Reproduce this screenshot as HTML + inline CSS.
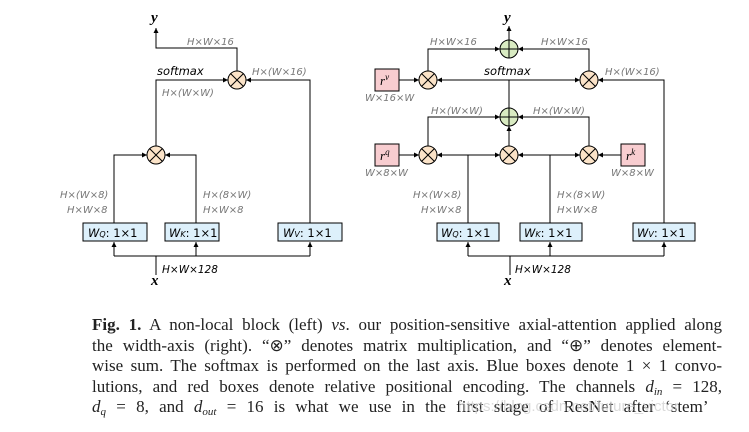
<!DOCTYPE html>
<html><head><meta charset="utf-8"><style>
body{margin:0;width:749px;height:432px;background:#fff;overflow:hidden;position:relative}
svg{position:absolute;left:0;top:0}
.l{position:absolute;left:92px;width:630px;font-family:"Liberation Serif",serif;font-size:17px;line-height:20px;text-align:justify;text-align-last:justify;white-space:nowrap;color:#222}
.l sub{font-size:11px;line-height:0;vertical-align:-3px}
.g{font-family:"DejaVu Sans","Liberation Sans",sans-serif;font-size:10px;fill:#777;font-style:italic}
.b{font-family:"DejaVu Sans",sans-serif;font-size:11.5px;fill:#000}
</style></head><body>
<svg width="749" height="300" viewBox="0 0 749 300">
<defs><marker id="a" viewBox="0 0 6 6" refX="6" refY="3" markerWidth="5" markerHeight="5" orient="auto"><path d="M0,0L6,3L0,6z" fill="#000"/></marker>
<g id="mul"><circle r="9" fill="#fbe3c8" stroke="#000" stroke-width="1"/><path d="M-6.4,-6.4L6.4,6.4M-6.4,6.4L6.4,-6.4" stroke="#000"/></g>
<g id="add"><circle r="9" fill="#d9ebc2" stroke="#000" stroke-width="1"/><path d="M-9,0H9M0,-9V9" stroke="#000"/></g></defs>
<g stroke="#000" stroke-width="1" fill="none">
<path d="M237,71V48H156V28" marker-end="url(#a)"/>
<path d="M156,146V80H228" marker-end="url(#a)"/>
<path d="M310,224V80H246" marker-end="url(#a)"/>
<path d="M114,224V155H147" marker-end="url(#a)"/>
<path d="M196,224V155H165" marker-end="url(#a)"/>
<path d="M156,275V256"/><path d="M114,256H310"/>
<path d="M114,256V242" marker-end="url(#a)"/><path d="M196,256V242" marker-end="url(#a)"/><path d="M310,256V242" marker-end="url(#a)"/>
<path d="M509,40V26" marker-end="url(#a)"/>
<path d="M428,71V49H500" marker-end="url(#a)"/>
<path d="M589,71V49H518" marker-end="url(#a)"/>
<path d="M509,108V80H437" marker-end="url(#a)"/>
<path d="M509,80H580" marker-end="url(#a)"/>
<path d="M664,224V80H598" marker-end="url(#a)"/>
<path d="M428,146V117H500" marker-end="url(#a)"/>
<path d="M589,146V117H518" marker-end="url(#a)"/>
<path d="M509,146V126" marker-end="url(#a)"/>
<path d="M399,80H419" marker-end="url(#a)"/>
<path d="M399,155H419" marker-end="url(#a)"/>
<path d="M621,155H598" marker-end="url(#a)"/>
<path d="M468,224V155H437" marker-end="url(#a)"/>
<path d="M468,155H500" marker-end="url(#a)"/>
<path d="M550,224V155H518" marker-end="url(#a)"/>
<path d="M550,155H580" marker-end="url(#a)"/>
<path d="M510,275V256"/><path d="M468,256H664"/>
<path d="M468,256V242" marker-end="url(#a)"/><path d="M550,256V242" marker-end="url(#a)"/><path d="M664,256V242" marker-end="url(#a)"/>
</g>
<use href="#mul" x="237" y="80"/><use href="#mul" x="156" y="155"/>
<use href="#add" x="509" y="49"/><use href="#mul" x="428" y="80"/><use href="#mul" x="589" y="80"/>
<use href="#add" x="509" y="117"/><use href="#mul" x="428" y="155"/><use href="#mul" x="509" y="155"/><use href="#mul" x="589" y="155"/>
<g fill="#ddf0fb" stroke="#000">
<rect x="83" y="223" width="64" height="18"/><rect x="165" y="223" width="54" height="18"/><rect x="278" y="223" width="64" height="18"/>
<rect x="437" y="223" width="62" height="18"/><rect x="520" y="223" width="62" height="18"/><rect x="633" y="223" width="62" height="18"/>
</g>
<g fill="#f8cdd0" stroke="#000"><rect x="375" y="69" width="24" height="22"/><rect x="375" y="144" width="24" height="22"/><rect x="621" y="144" width="24" height="22"/></g>
<g font-family="Liberation Serif,serif" font-size="13" font-style="italic">
<text x="380" y="85">r<tspan font-size="9" dy="-5">v</tspan></text>
<text x="380" y="160">r<tspan font-size="9" dy="-5">q</tspan></text>
<text x="626" y="160">r<tspan font-size="9" dy="-5">k</tspan></text>
</g>
<g class="b">
<text x="88" y="237"><tspan font-style="italic">W</tspan><tspan font-size="8" font-style="italic">Q</tspan>: 1×1</text>
<text x="169" y="237"><tspan font-style="italic">W</tspan><tspan font-size="8" font-style="italic">K</tspan>: 1×1</text>
<text x="283" y="237"><tspan font-style="italic">W</tspan><tspan font-size="8" font-style="italic">V</tspan>: 1×1</text>
<text x="441" y="237"><tspan font-style="italic">W</tspan><tspan font-size="8" font-style="italic">Q</tspan>: 1×1</text>
<text x="524" y="237"><tspan font-style="italic">W</tspan><tspan font-size="8" font-style="italic">K</tspan>: 1×1</text>
<text x="637" y="237"><tspan font-style="italic">W</tspan><tspan font-size="8" font-style="italic">V</tspan>: 1×1</text>
<text x="157" y="75" font-style="italic">softmax</text>
<text x="484" y="75" font-style="italic">softmax</text>
<text x="162" y="273" font-size="10.5" font-style="italic">H×W×128</text>
<text x="515" y="273" font-size="10.5" font-style="italic">H×W×128</text>
</g>
<g font-family="Liberation Serif,serif" font-weight="bold" font-style="italic" font-size="15">
<text x="151" y="22">y</text><text x="151" y="285">x</text>
<text x="504" y="22">y</text><text x="504" y="285">x</text>
</g>
<g class="g">
<text x="187" y="45">H×W×16</text>
<text x="252" y="75">H×(W×16)</text>
<text x="162" y="96">H×(W×W)</text>
<text x="60" y="198">H×(W×8)</text><text x="67" y="213">H×W×8</text>
<text x="203" y="198">H×(8×W)</text><text x="203" y="213">H×W×8</text>
<text x="430" y="45">H×W×16</text><text x="541" y="45">H×W×16</text>
<text x="605" y="75">H×(W×16)</text>
<text x="365" y="101">W×16×W</text>
<text x="431" y="114">H×(W×W)</text><text x="533" y="114">H×(W×W)</text>
<text x="365" y="176">W×8×W</text><text x="611" y="176">W×8×W</text>
<text x="413" y="198">H×(W×8)</text><text x="421" y="213">H×W×8</text>
<text x="557" y="198">H×(8×W)</text><text x="557" y="213">H×W×8</text>
</g>
</svg>
<div class="l" style="top:315px"><b>Fig. 1.</b> A non-local block (left) <i>vs</i>. our position-sensitive axial-attention applied along</div>
<div class="l" style="top:335.5px">the width-axis (right). “⊗” denotes matrix multiplication, and “⊕” denotes element-</div>
<div class="l" style="top:356px">wise sum. The softmax is performed on the last axis. Blue boxes denote 1 × 1 convo-</div>
<div class="l" style="top:376.5px">lutions, and red boxes denote relative positional encoding. The channels <i>d<sub>in</sub></i> = 128,</div>
<div class="l" style="top:397px;text-align-last:left;word-spacing:6px"><i>d<sub>q</sub></i> = 8, and <i>d<sub>out</sub></i> = 16 is what we use in the first stage of ResNet after ‘stem’</div>
<div style="position:absolute;left:458px;top:398px;font-family:'Liberation Sans',sans-serif;color:#ccc;font-size:15px;white-space:nowrap;opacity:.7">https://blog.csdn.net/future_victor</div>
</body></html>
